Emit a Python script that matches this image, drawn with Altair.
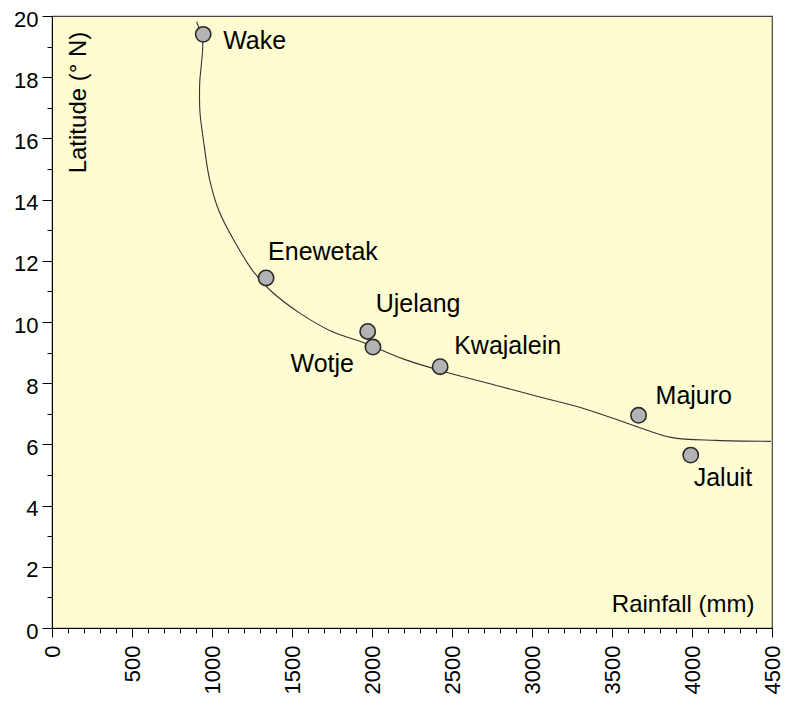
import altair as alt
import pandas as pd

# Atoll data
atolls = ["Wake", "Enewetak", "Ujelang", "Wotje", "Kwajalein", "Majuro", "Jaluit"]
rainfall = [945, 1338, 1973, 2006, 2426, 3666, 3992]
latitude = [19.40, 11.44, 9.69, 9.18, 8.54, 6.95, 5.65]

# Fitted curve
curve_rain = [904, 941, 934, 924, 922, 925, 951, 984, 1045, 1150, 1254, 1365, 1549,
              1752, 1936, 2207, 2471, 2797, 3025, 3332, 3639, 3867, 4150, 4494]
curve_lat = [19.81, 19.16, 18.45, 17.90, 17.39, 16.84, 15.77, 14.68, 13.61, 12.55,
             11.68, 11.03, 10.29, 9.68, 9.35, 8.77, 8.35, 7.90, 7.58, 7.16, 6.61,
             6.23, 6.13, 6.10]

x_ticks = list(range(0, 4501, 100))
y_ticks = list(range(0, 21, 1))

pts = pd.DataFrame({"atoll": atolls, "rain": rainfall, "lat": latitude})
curve = pd.DataFrame({"rain": curve_rain, "lat": curve_lat,
                      "order": list(range(len(curve_rain)))})

FONT = "Liberation Sans"

xscale = alt.Scale(domain=[0, 4500], nice=False, zero=False)
yscale = alt.Scale(domain=[0, 20], nice=False, zero=False)

xaxis = alt.Axis(
    values=x_ticks, format="d",
    labelExpr="datum.value % 500 === 0 ? datum.label : ''",
    labelAngle=270,
    labelFont=FONT, labelFontSize=22, labelColor="#000",
    labelPadding=8,
    tickSize={"condition": {"test": "datum.value % 500 === 0", "value": 9}, "value": 5},
    tickColor="#000", domainColor="#000", grid=False,
    title="Rainfall (mm)", titleFont=FONT, titleFontSize=24, titleFontWeight="normal",
    titleColor="#000", titleAlign="right", titleBaseline="middle", titleAngle=0,
    titleX=702, titleY=-24, labelFlush=False, labelOverlap=False,
)
yaxis = alt.Axis(
    values=y_ticks, format="d",
    labelExpr="datum.value % 2 === 0 ? datum.label : ''",
    labelFont=FONT, labelFontSize=22, labelColor="#000",
    labelPadding=4, labelOffset=3,
    tickSize={"condition": {"test": "datum.value % 2 === 0", "value": 10}, "value": 5},
    tickColor="#000", domainColor="#000", grid=False,
    title="Latitude (° N)", titleFont=FONT, titleFontSize=24, titleFontWeight="normal",
    titleColor="#000", titleAlign="center", titleBaseline="middle", titleAngle=270,
    titleX=26, titleY=86, labelFlush=False, labelOverlap=False,
)

X = alt.X("rain:Q", scale=xscale, axis=xaxis)
Y = alt.Y("lat:Q", scale=yscale, axis=yaxis)

line = alt.Chart(curve).mark_line(
    color="#333333", strokeWidth=1.1, interpolate="catmull-rom"
).encode(x=X, y=Y, order="order:Q")

points = alt.Chart(pts).mark_point(
    shape="circle", filled=True, fill="#b3b3b3", stroke="#2a2a2a",
    strokeWidth=1.6, size=235, opacity=1,
).encode(x=X, y=Y)

# label placement (style, not data)
label_style = {
    "Wake": (20, 7, "left"),
    "Enewetak": (2, -26, "left"),
    "Ujelang": (8, -27, "left"),
    "Wotje": (-19, 17, "right"),
    "Kwajalein": (14, -21, "left"),
    "Majuro": (17, -19, "left"),
    "Jaluit": (3, 23, "left"),
}

labels = []
for name, (dx, dy, al) in label_style.items():
    labels.append(
        alt.Chart(pts).transform_filter(alt.datum.atoll == name)
        .mark_text(font=FONT, fontSize=25, color="#000", dx=dx, dy=dy,
                   align=al, baseline="middle")
        .encode(x=X, y=Y, text="atoll:N")
    )

chart = alt.layer(line, points, *labels).properties(
    width=720, height=612,
    autosize=alt.AutoSizeParams(type="none"),
    padding={"left": 44, "top": 8, "right": 13, "bottom": 66},
    background="white",
).configure_view(
    fill="#fffcd2", stroke="#444444", strokeWidth=1.2,
)

chart.save("out.html", embed_options={"renderer": "svg", "actions": False})
